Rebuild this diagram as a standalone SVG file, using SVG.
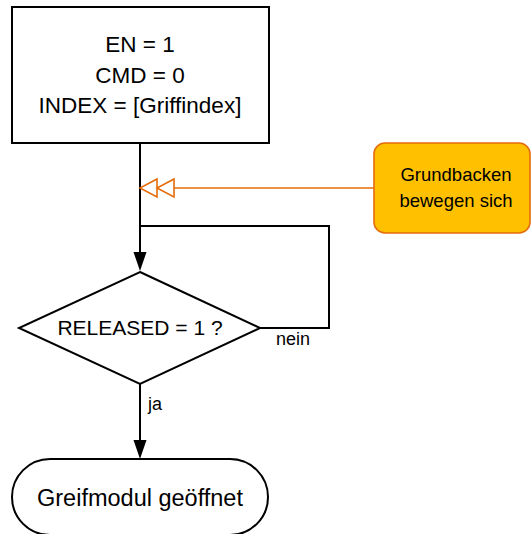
<svg xmlns="http://www.w3.org/2000/svg" width="531" height="534" viewBox="0 0 531 534">
<style>
.n{fill:#fff;stroke:#000;stroke-width:2}
.t{font-family:"Liberation Sans",Arial,sans-serif;fill:#000;text-anchor:middle}
.big{font-size:22.5px}
.sm{font-size:18px;text-anchor:start}
.c{fill:none;stroke:#000;stroke-width:2}
.o{fill:none;stroke:#E46C0A;stroke-width:1.6}
</style>
<g id="connectors">
<path class="c" d="M140,143 V252"/>
<path class="c" d="M260,328 H329 V226 H140"/>
<path d="M133.5,252 L146.5,252 L140,271 Z" fill="#000"/>
<path class="c" d="M140,384 V440"/>
<path d="M133.5,440 L146.5,440 L140,459 Z" fill="#000"/>
<path class="o" d="M374,188 H174"/>
<path class="o" d="M174,179 L157,188 L174,197 Z M157,179 L140,188 L157,197 Z"/>
<text class="t sm" x="276" y="345">nein</text>
<text class="t sm" x="148" y="410">ja</text>
</g>
<g id="start">
<rect class="n" x="12" y="7" width="257" height="136"/>
<text class="t big" x="140" y="52">EN = 1</text>
<text class="t big" x="140" y="83">CMD = 0</text>
<text class="t big" x="140" y="113">INDEX = [Griffindex]</text>
</g>
<g id="note">
<rect x="374" y="143" width="156" height="90" rx="11" fill="#FFC000" stroke="#E46C0A" stroke-width="1.6"/>
<text class="t" font-size="18.5" x="456" y="181">Grundbacken</text>
<text class="t" font-size="18.5" x="456" y="207">bewegen sich</text>
</g>
<g id="decision">
<path class="n" d="M140,272 L260,328 L140,384 L19,328 Z"/>
<text class="t" font-size="21" x="140" y="335">RELEASED = 1 ?</text>
</g>
<g id="end">
<rect class="n" x="12" y="459" width="256" height="76" rx="38"/>
<text class="t" font-size="23.5" x="140" y="506">Greifmodul geöffnet</text>
</g>
</svg>
